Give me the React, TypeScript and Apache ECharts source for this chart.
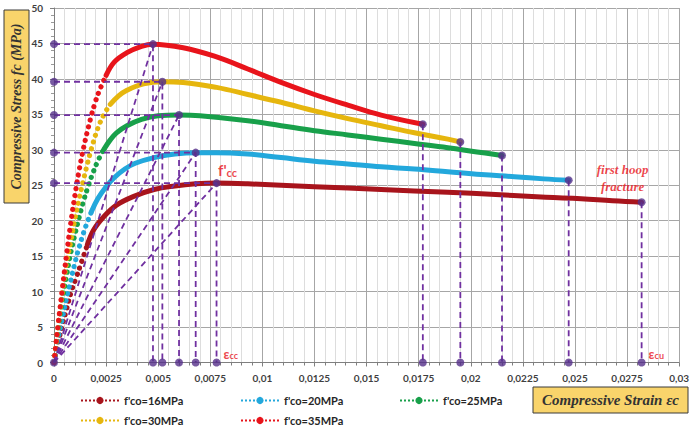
import React, { useEffect, useRef } from 'react';
import * as echarts from 'echarts';

// ---- data ----
const legendNames = ["f'co=16MPa", "f'co=20MPa", "f'co=25MPa", "f'co=30MPa", "f'co=35MPa"];
const colors = ['#A8141C', '#23A8DC', '#18A04A', '#E6B60E', '#E8141B'];

// strain, stress (MPa)
const curve16: [number, number][] = [
  [0, 0], [0.00017, 2.4], [0.00036, 4.8], [0.0006, 7.5], [0.00083, 10.0], [0.00107, 12.0],
  [0.0013, 14.0], [0.0016, 16.6], [0.0019, 18.7], [0.0024, 20.6], [0.003, 22.2], [0.0038, 23.4],
  [0.0048, 24.4], [0.0058, 24.9], [0.0068, 25.2], [0.0078, 25.3], [0.0093, 25.2], [0.0125, 24.8],
  [0.0157, 24.4], [0.0189, 24.0], [0.0205, 23.8], [0.0236, 23.3], [0.0253, 23.1], [0.0268, 22.8],
  [0.0282, 22.6],
];
const curve20: [number, number][] = [
  [0, 0], [0.0002, 3.4], [0.0004, 6.2], [0.0006, 9.0], [0.0008, 11.5], [0.001, 14.0],
  [0.0012, 16.2], [0.0015, 19.0], [0.0018, 21.3], [0.0021, 23.1], [0.0025, 24.8], [0.0029, 26.1],
  [0.0034, 27.3], [0.0039, 28.1], [0.0048, 28.9], [0.0058, 29.4], [0.0068, 29.6], [0.0078, 29.6],
  [0.0093, 29.4], [0.0109, 28.9], [0.0125, 28.4], [0.0141, 28.0], [0.0157, 27.6], [0.0173, 27.3],
  [0.0189, 26.9], [0.0205, 26.5], [0.0221, 26.2], [0.0235, 25.9], [0.0247, 25.7],
];
const curve25: [number, number][] = [
  [0, 0], [0.0002, 4.6], [0.0004, 8.8], [0.0006, 12.2], [0.0008, 15.4], [0.001, 18.0],
  [0.0012, 20.4], [0.0014, 22.6], [0.0016, 24.5], [0.0018, 26.2], [0.0021, 28.4], [0.0024, 30.1],
  [0.0027, 31.4], [0.003, 32.4], [0.0035, 33.4], [0.0042, 34.3], [0.005, 34.8], [0.006, 34.9],
  [0.007, 34.8], [0.0093, 34.1], [0.0109, 33.4], [0.0125, 32.7], [0.0141, 32.1], [0.0157, 31.5],
  [0.0173, 30.9], [0.0189, 30.3], [0.0203, 29.7], [0.0215, 29.2],
];
const curve30: [number, number][] = [
  [0, 0], [0.0001, 2.6], [0.0002, 5.2], [0.0004, 9.8], [0.0006, 14.0], [0.0008, 17.0],
  [0.001, 20.2], [0.0012, 23.0], [0.0014, 25.6], [0.0016, 28.0], [0.0018, 30.2], [0.0021, 33.0],
  [0.0024, 35.0], [0.0027, 36.4], [0.0031, 37.6], [0.0035, 38.4], [0.0043, 39.3], [0.0052, 39.6],
  [0.0062, 39.5], [0.0078, 38.8], [0.0093, 37.8], [0.0109, 36.7], [0.0125, 35.5], [0.0141, 34.4],
  [0.0157, 33.4], [0.0173, 32.4], [0.0189, 31.5], [0.0195, 31.1],
];
const curve35: [number, number][] = [
  [0, 0], [0.0001, 2.8], [0.0002, 5.4], [0.0004, 10.4], [0.0006, 15.2], [0.0008, 19.6],
  [0.001, 23.5], [0.0012, 27.0], [0.0014, 30.0], [0.0016, 32.6], [0.0018, 34.9], [0.002, 36.9],
  [0.0022, 38.5], [0.0025, 40.5], [0.0029, 42.4], [0.0035, 43.7], [0.0042, 44.6], [0.00475, 44.9],
  [0.0062, 44.4], [0.0077, 43.2], [0.0093, 41.4], [0.0109, 39.5], [0.0125, 37.8], [0.0141, 36.3],
  [0.0157, 34.9], [0.0177, 33.6],
];
// strain where the plotted markers merge into a continuous band
const denseFrom = [0.0016, 0.0018, 0.0024, 0.0027, 0.0025];

// peak (f'cc, eps_cc) and ultimate (eps_cu) points
const peakStrain = [0.0078, 0.0068, 0.006, 0.0052, 0.00475];
const peakStress = [25.3, 29.6, 34.9, 39.6, 44.9];
const endStrain = [0.0282, 0.0247, 0.0215, 0.0195, 0.0177];
const endStress = [22.6, 25.7, 29.2, 31.1, 33.6];

const xMin = 0, xMax = 0.03, xStep = 0.0025;
const yMin = 0, yMax = 50, yStep = 5;

const purple = '#7030A0';
const dotColor = '#55308A';
const red = '#E8141B';

export default function App() {
  const ref = useRef<HTMLDivElement>(null);
  useEffect(() => {
    const chart = echarts.init(ref.current!, undefined, { renderer: 'svg' });
    const curves = [curve16, curve20, curve25, curve30, curve35];
    const series: any[] = [];
    curves.forEach((pts, i) => {
      const rise = pts.filter((p) => p[0] <= denseFrom[i]);
      const fall = pts.filter((p) => p[0] >= denseFrom[i]);
      series.push({
        type: 'line', name: legendNames[i], data: rise, smooth: 0.4, showSymbol: false,
        symbol: 'circle', color: colors[i], silent: true, z: 3,
        lineStyle: { width: 5.2, type: [0.01, 7], cap: 'round', color: colors[i] },
      });
      series.push({
        type: 'line', name: legendNames[i] + ' band', data: fall, smooth: 0.4, showSymbol: false,
        color: colors[i], silent: true, z: 3,
        lineStyle: { width: 5, cap: 'round', join: 'round', color: colors[i] },
      });
    });
    const dash = { color: purple, width: 1.8, type: [6, 4] };
    peakStrain.forEach((e, i) => {
      const f = peakStress[i];
      series.push({ type: 'line', data: [[0, f], [e, f], [e, 0]], showSymbol: false, silent: true, z: 5, lineStyle: dash });
      series.push({ type: 'line', data: [[0, 0], [e, f]], showSymbol: false, silent: true, z: 5, lineStyle: dash });
      series.push({ type: 'line', data: [[endStrain[i], endStress[i]], [endStrain[i], 0]], showSymbol: false, silent: true, z: 5, lineStyle: dash });
    });
    const redLabel = { color: red, fontFamily: 'Lato', fontWeight: 'bold' };
    const dots: any[] = [{ value: [0, 0] }];
    peakStrain.forEach((e, i) => {
      dots.push({ value: [0, peakStress[i]] });
      dots.push(i === 0 ? {
        value: [e, peakStress[i]],
        label: {
          show: true, position: 'top', offset: [11, 4], formatter: "{a|f'}{b|cc}",
          rich: { a: { ...redLabel, fontSize: 15 }, b: { ...redLabel, fontSize: 11, padding: [5, 0, 0, 0] } },
        },
      } : { value: [e, peakStress[i]] });
      dots.push(i === 0 ? {
        value: [e, 0],
        label: {
          show: true, position: 'right', offset: [-2, -9], formatter: '{a|ε}{b|cc}',
          rich: { a: { ...redLabel, fontSize: 13 }, b: { ...redLabel, fontSize: 9, padding: [4, 0, 0, 0] } },
        },
      } : { value: [e, 0] });
      dots.push(i === 0 ? {
        value: [endStrain[i], endStress[i]],
        label: {
          show: true, position: 'top', offset: [-19, 2], formatter: 'first hoop\nfracture',
          color: red, fontFamily: 'Liberation Serif', fontStyle: 'italic', fontWeight: 'bold',
          fontSize: 13, lineHeight: 17, align: 'center',
        },
      } : { value: [endStrain[i], endStress[i]] });
      dots.push(i === 0 ? {
        value: [endStrain[i], 0],
        label: {
          show: true, position: 'right', offset: [-2, -9], formatter: '{a|ε}{b|cu}',
          rich: { a: { ...redLabel, fontSize: 13 }, b: { ...redLabel, fontSize: 9, padding: [4, 0, 0, 0] } },
        },
      } : { value: [endStrain[i], 0] });
    });
    series.push({
      type: 'scatter', data: dots, symbol: 'circle', symbolSize: 8, silent: true, z: 6,
      itemStyle: { color: dotColor },
    });

    const legendPos: [number, number][] = [[80, 395], [240, 395], [399, 395], [80, 415], [240, 415]];
    const legend = legendNames.map((n, i) => ({
      data: [n], left: legendPos[i][0], top: legendPos[i][1], itemWidth: 38, itemHeight: 9,
      selectedMode: false, padding: 0,
      textStyle: { fontFamily: 'Lato', fontWeight: 'bold', fontSize: 11, color: '#262626' },
      lineStyle: { width: 2, type: [2, 2], cap: 'butt' },
      itemStyle: { borderWidth: 0 },
    }));

    const fmt = (v: number) => Number(v.toFixed(5)).toString().replace('.', ',');
    const labelStyle = { color: '#3f3f3f', fontFamily: 'Lato', fontWeight: 'bold', fontSize: 10 };

    chart.setOption({
      animation: false,
      backgroundColor: '#ffffff',
      grid: { left: 54, right: 8, top: 8, bottom: 67.5, containLabel: false },
      xAxis: {
        type: 'value', min: xMin, max: xMax, interval: xStep,
        axisLine: { show: true, lineStyle: { color: '#7f7f7f' } },
        axisTick: { show: true, length: 4, lineStyle: { color: '#7f7f7f' } },
        minorTick: { show: true, splitNumber: 5, length: 3, lineStyle: { color: '#7f7f7f' } },
        splitLine: { show: true, lineStyle: { color: '#a6a6a6', width: 1 } },
        minorSplitLine: { show: true, lineStyle: { color: '#dddddd', width: 1 } },
        axisLabel: { ...labelStyle, margin: 10, formatter: fmt },
      },
      yAxis: {
        type: 'value', min: yMin, max: yMax, interval: yStep,
        axisLine: { show: true, lineStyle: { color: '#7f7f7f' } },
        axisTick: { show: true, length: 4, lineStyle: { color: '#7f7f7f' } },
        minorTick: { show: true, splitNumber: 5, length: 3, lineStyle: { color: '#9a9a9a' } },
        splitLine: { show: true, lineStyle: { color: '#a6a6a6', width: 1 } },
        axisLabel: { ...labelStyle, margin: 11 },
      },
      legend,
      series,
      graphic: [
        {
          type: 'rect', shape: { x: 4, y: 10, width: 25, height: 193 }, z: 10,
          style: { fill: '#F9D46B', stroke: '#3b3b3b', lineWidth: 1 },
        },
        {
          type: 'text', x: 16.5, y: 106.5, rotation: Math.PI / 2, z: 11,
          style: {
            text: 'Compressive Stress fc (MPa)', fill: '#333333', align: 'center', verticalAlign: 'middle',
            font: 'italic bold 14px "Liberation Serif"',
          },
        },
        {
          type: 'rect', shape: { x: 533, y: 387, width: 155, height: 26 }, z: 10,
          style: { fill: '#F9D46B', stroke: '#3b3b3b', lineWidth: 1 },
        },
        {
          type: 'text', x: 610.5, y: 400, z: 11,
          style: {
            text: 'Compressive Strain εc', fill: '#333333', align: 'center', verticalAlign: 'middle',
            font: 'italic bold 15px "Liberation Serif"',
          },
        },
      ],
    });
    return () => chart.dispose();
  }, []);
  return <div ref={ref} style={{ position: 'absolute', left: 0, top: 0, width: 692, height: 430 }} />;
}
